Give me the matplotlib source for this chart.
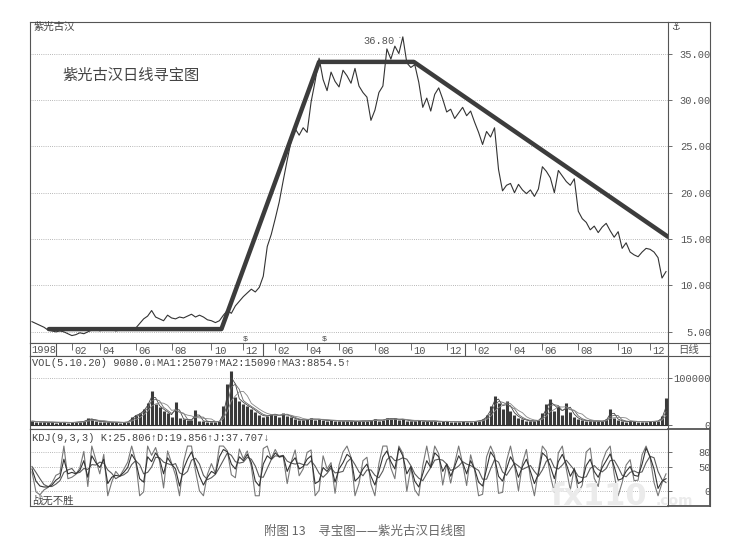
import numpy as np
import pandas as pd
import matplotlib
matplotlib.use('Agg')
import matplotlib.pyplot as plt
from matplotlib.lines import Line2D

# daily close (one value every ~4 px)
price = [6.1, 5.9, 5.7, 5.5, 5.2, 5.1, 5.0, 5.1, 5.0, 4.8,
         4.6, 4.7, 4.9, 4.8, 5.0, 5.2, 5.4, 5.1, 5.3, 5.2,
         5.3, 5.1, 5.2, 5.3, 5.2, 5.4, 5.4, 5.9, 6.4, 6.7,
         7.3, 6.6, 6.4, 6.2, 6.8, 6.5, 6.4, 6.6, 6.5, 6.7,
         6.9, 6.6, 6.8, 6.6, 6.3, 6.2, 6.0, 6.2, 6.8, 7.3,
         7.0, 7.8, 8.3, 8.8, 9.2, 9.6, 9.3, 9.8, 11.0, 14.2,
         15.5, 17.2, 19.0, 21.3, 23.5, 25.6, 26.9, 26.2, 27.0, 26.5,
         29.8, 32.0, 34.5, 32.2, 31.0, 33.0, 32.0, 31.4, 33.2, 32.6,
         31.8, 33.4, 31.5, 30.8, 30.3, 27.8, 28.9, 30.8, 31.5, 35.5,
         34.4, 35.8, 35.0, 36.8, 34.0, 33.5, 33.8, 31.9, 29.2, 30.2,
         28.8, 30.6, 31.3, 30.1, 28.7, 29.0, 28.0, 28.6, 29.2, 28.3,
         28.8, 27.6, 26.5, 25.2, 26.6, 26.0, 27.0, 22.5, 20.2, 20.8,
         21.0, 20.0, 20.9, 20.3, 19.9, 20.3, 19.6, 20.4, 22.8, 22.3,
         21.6, 20.0, 22.4, 21.8, 21.2, 20.8, 21.5, 18.0, 17.2, 16.8,
         16.0, 16.4, 15.7, 16.3, 16.7, 15.9, 15.2, 15.8, 14.0, 14.6,
         13.6, 13.3, 13.1, 13.6, 14.0, 13.9, 13.6, 13.0, 10.8, 11.5]

volume = [8000, 7000, 6500, 6000, 5500, 6000, 5000, 5500, 6000, 5000,
          5500, 6000, 7000, 8000, 14000, 12000, 8000, 7000, 6500, 6000,
          5500, 6000, 5000, 5500, 7000, 18000, 22000, 25000, 35000, 48000,
          72000, 45000, 38000, 30000, 26000, 18000, 50000, 14000, 12000, 11000,
          10000, 33000, 9000, 8000, 7000, 6500, 7000, 7500, 40000, 87000,
          116000, 60000, 52000, 45000, 40000, 35000, 28000, 22000, 18000, 20000,
          24000, 22000, 18000, 26000, 20000, 16000, 12000, 11000, 10000, 12000,
          14000, 11000, 13000, 10000, 9000, 10000, 8500, 9000, 8000, 9500,
          8000, 7500, 8500, 9000, 8000, 10000, 12000, 9000, 11000, 15000,
          12000, 14000, 10000, 13000, 9000, 8000, 9000, 10000, 8000, 7500,
          9000, 8000, 7000, 7500, 8000, 7000, 6500, 7000, 7500, 6500,
          7000, 8000, 9000, 12000, 22000, 40000, 63000, 48000, 35000, 52000,
          30000, 22000, 15000, 12000, 9000, 8000, 9000, 10000, 25000, 45000,
          55000, 30000, 40000, 22000, 48000, 28000, 18000, 12000, 10000, 9000,
          8000, 9000, 8000, 7500, 12000, 35000, 15000, 10000, 8000, 7000,
          7500, 8000, 7000, 6500, 7000, 8000, 7500, 9000, 20000, 57000]

kdj_k = [45, 20, 10, 8, 8, 12, 22, 28, 65, 35,
         38, 35, 42, 62, 28, 72, 58, 48, 65, 15,
         28, 32, 30, 38, 48, 75, 62, 25, 18, 70,
         60, 78, 65, 35, 68, 55, 45, 10, 45, 65,
         80, 55, 30, 12, 28, 40, 35, 70, 85, 80,
         55, 45, 70, 62, 75, 58, 20, 10, 55, 72,
         65, 78, 70, 72, 40, 58, 68, 45, 50, 65,
         72, 15, 20, 48, 40, 52, 18, 45, 58, 75,
         68, 20, 28, 45, 55, 30, 12, 40, 70, 82,
         60, 45, 88, 72, 35, 50, 20, 8, 35, 62,
         48, 78, 70, 40, 55, 30, 50, 72, 58, 35,
         62, 45, 18, 10, 45, 80, 68, 30, 20, 45,
         70, 55, 28, 50, 65, 40, 15, 35, 78, 70,
         50, 25, 60, 75, 55, 30, 45, 15, 20, 52,
         65, 40, 28, 48, 62, 76, 50, 22, 25, 40,
         50, 32, 30, 55, 88, 70, 45, 5, 20, 25]

kdj_d = [50, 38, 25, 13, 9, 9, 14, 21, 38, 43,
         46, 36, 38, 46, 44, 54, 53, 59, 57, 43,
         36, 25, 30, 33, 39, 54, 62, 54, 35, 38,
         49, 69, 68, 59, 56, 53, 56, 37, 33, 40,
         63, 67, 55, 32, 23, 27, 34, 48, 63, 78,
         73, 60, 57, 59, 69, 65, 51, 29, 28, 46,
         64, 72, 71, 73, 61, 57, 55, 57, 54, 53,
         62, 51, 36, 28, 36, 47, 37, 38, 40, 59,
         67, 54, 39, 31, 43, 43, 32, 27, 41, 64,
         71, 62, 64, 68, 65, 52, 35, 26, 21, 35,
         48, 63, 65, 63, 55, 42, 45, 51, 60, 55,
         52, 47, 42, 24, 24, 45, 64, 59, 39, 32,
         45, 57, 51, 44, 48, 52, 40, 30, 43, 61,
         66, 48, 45, 53, 63, 53, 43, 30, 27, 29,
         46, 52, 44, 39, 46, 62, 63, 49, 32, 29,
         38, 41, 37, 39, 58, 71, 68, 40, 23, 17]

kdj_j = [39, -2, -8, 2, 7, 16, 32, 36, 92, 25,
         28, 34, 47, 81, 9, 92, 64, 35, 75, -10,
         18, 40, 30, 44, 59, 92, 62, -10, -2, 92,
         73, 89, 61, 6, 82, 57, 32, -10, 59, 92,
         92, 41, 0, -10, 34, 56, 36, 92, 92, 82,
         33, 27, 86, 66, 82, 50, -10, -10, 87, 92,
         66, 85, 69, 71, 15, 59, 84, 31, 45, 79,
         84, -10, 1, 72, 45, 58, -5, 53, 80, 92,
         69, -10, 15, 62, 69, 14, -10, 56, 92, 92,
         47, 25, 92, 77, -1, 48, 2, -10, 52, 92,
         48, 92, 76, 12, 55, 16, 56, 92, 56, 11,
         74, 43, -10, -7, 70, 92, 73, -5, -3, 61,
         92, 53, 0, 57, 85, 26, -10, 41, 92, 81,
         31, -3, 78, 92, 45, 2, 47, -3, 12, 80,
         88, 26, 9, 59, 81, 92, 34, -10, 17, 53,
         64, 21, 22, 74, 92, 69, 17, -10, 16, 35]

# hand drawn trend lines (bar index, price)
trend_x = [4.25, 47.5, 72, 95.75, 159.5]
trend_y = [5.3, 5.3, 34.1, 34.1, 15.25]

price_ticks = [5, 10, 15, 20, 25, 30, 35]
vol_ticks = [0, 100000]
kdj_ticks = [0, 50, 80]
kdj_grid = [0, 20, 50, 80]

first_year = '1998'
month_labels = ['02', '04', '06', '08', '10', '12',
                '02', '04', '06', '08', '10', '12',
                '02', '04', '06', '08', '10', '12']
month_pos = [10, 17, 26, 35, 45, 53, 61, 69, 77, 86, 95, 104, 111, 120, 128, 137, 147, 155]
year_sep = [6, 58, 108.5]
exright_pos = [53.4, 73.4]   # "$" marks
ma_windows = [2, 3, 5]       # 5/10/20 days at this bar spacing

mono = ['Liberation Mono', 'DejaVu Sans Mono']
cjk = ['Noto Sans CJK SC', 'DejaVu Sans']
plt.rcParams['font.family'] = ['Liberation Mono', 'Noto Sans CJK SC', 'DejaVu Sans']

edge = '#555555'
txt = '#555555'
W, H = 733, 550
fig = plt.figure(figsize=(W / 100, H / 100), dpi=100)


def box(x0, y0, x1, y1):
    return [x0 / W, 1 - y1 / H, (x1 - x0) / W, (y1 - y0) / H]


def fline(x0, y0, x1, y1, lw=0.8):
    fig.add_artist(Line2D([x0 / W, x1 / W], [1 - y0 / H, 1 - y1 / H],
                          transform=fig.transFigure, color=edge, lw=lw))


ax_p = fig.add_axes(box(30, 22, 668, 343))
ax_d = fig.add_axes(box(30, 343, 668, 356), sharex=ax_p)
ax_v = fig.add_axes(box(30, 356, 668, 429), sharex=ax_p)
ax_k = fig.add_axes(box(30, 429, 668, 506), sharex=ax_p)

x = np.arange(len(price))
dots = (0, (1, 1.6))

for ax in (ax_p, ax_d, ax_v, ax_k):
    for s in ax.spines.values():
        s.set_color(edge)
        s.set_linewidth(0.8)
    ax.tick_params(axis='x', bottom=False, labelbottom=False)
    ax.yaxis.tick_right()
    ax.tick_params(axis='y', direction='out', length=3, width=0.6, pad=28,
                   labelsize=7.5, colors=txt)

# ---- price panel
ax_p.set_xlim(-0.5, len(price) - 0.5)
ax_p.set_ylim(3.8, 38.4)
for t in price_ticks:
    ax_p.axhline(t, color='#a0a0a0', lw=0.6, ls=dots, zorder=0)
ax_p.plot(x, price, color='#333333', lw=0.8)
ax_p.plot(trend_x, trend_y, color='#3c3c3c', lw=3.2, solid_capstyle='round')
ax_p.set_yticks(price_ticks, labels=['%.2f' % t for t in price_ticks], ha='right')
ax_p.annotate('36.80', xy=(x[int(np.argmax(price))], max(price)), xytext=(83, 36.3),
              fontsize=7.5, color=txt, va='center', family=mono,
              arrowprops=dict(arrowstyle='-', color='#666', lw=0.6))
for p in exright_pos:
    ax_p.text(p, 4.2, '$', fontsize=6, color='#444', ha='center', va='center', family=mono)
ax_p.text(0.005, 0.985, '紫光古汉', transform=ax_p.transAxes, fontsize=7.5,
          color='#444', va='center', family=cjk)
ax_p.text(0.05, 0.832, '紫光古汉日线寻宝图', transform=ax_p.transAxes, fontsize=11,
          color='#444', va='center', family=cjk)

# ---- date row
ax_d.set_ylim(0, 1)
ax_d.set_yticks([])
ax_d.text(-0.3, 0.45, first_year, fontsize=7.5, color=txt, va='center', family=mono)
ax_d.vlines(year_sep, 0, 1, color=edge, lw=0.8)
ax_d.vlines(month_pos, 0.5, 1, color=edge, lw=0.6)
for p, lab in zip(month_pos, month_labels):
    ax_d.text(p + 0.6, 0.42, lab, fontsize=7.5, color=txt, va='center', family=mono)

# ---- volume panel
ax_v.set_ylim(-8700, 147800)
ax_v.axhline(100000, color='#a0a0a0', lw=0.6, ls=dots, zorder=0)
ax_v.vlines(x, 0, volume, color='#3a3a3a', lw=2.2)
vol_s = pd.Series(volume, dtype=float)
for w, c in zip(ma_windows, ['#444', '#666', '#888']):
    ax_v.plot(x, vol_s.rolling(w, min_periods=1).mean(), color=c, lw=0.6)
ax_v.axhline(0, color='#333', lw=0.8)
ax_v.set_yticks(vol_ticks, labels=[str(t) for t in vol_ticks], ha='right')
ax_v.text(0.003, 0.905, 'VOL(5.10.20) 9080.0↓MA1:25079↑MA2:15090↑MA3:8854.5↑',
          transform=ax_v.transAxes, fontsize=7.5, color='#444', va='center', family=mono)

# ---- KDJ panel
ax_k.set_ylim(-31, 127)
for t in kdj_grid:
    ax_k.axhline(t, color='#a0a0a0', lw=0.6, ls=dots, zorder=0)
ax_k.plot(x, kdj_j, color='#777777', lw=0.8)
ax_k.plot(x, kdj_d, color='#5a5a5a', lw=0.8)
ax_k.plot(x, kdj_k, color='#333333', lw=0.8)
ax_k.set_yticks(kdj_ticks, labels=[str(t) for t in kdj_ticks], ha='right')
ax_k.text(0.003, 0.883, 'KDJ(9,3,3) K:25.806↑D:19.856↑J:37.707↓',
          transform=ax_k.transAxes, fontsize=7.5, color='#444', va='center', family=mono)
ax_k.text(0.003, 0.075, '战无不胜', transform=ax_k.transAxes, fontsize=7.5,
          color='#444', va='center', family=cjk)

# ---- right column frame
fline(668, 22, 710, 22)
fline(710, 22, 710, 506)
fline(668, 343, 710, 343)
fline(668, 356, 710, 356)
fline(668, 429, 710, 429, lw=1.3)
fline(710, 429, 710, 506, lw=1.3)
fline(668, 506, 710, 506, lw=1.3)
fig.text(671 / W, 1 - 27 / H, '⚓', fontsize=7, color='#444', va='center',
         family=['DejaVu Sans'])
fig.text(689 / W, 1 - 350 / H, '日线', fontsize=7.5, color=txt, ha='center',
         va='center', family=cjk)

# watermark
fig.text(550 / W, 1 - 505 / H, 'fx110', fontsize=22, color='#ebebeb',
         weight='bold', family=['DejaVu Sans'])
fig.text(656 / W, 1 - 505 / H, '.com', fontsize=10, color='#ebebeb',
         weight='bold', family=['DejaVu Sans'])

fig.text(365 / W, 1 - 531 / H, '附图 13　寻宝图——紫光古汉日线图', fontsize=9,
         color='#666', ha='center', va='center', family=cjk)

fig.savefig('out.png', dpi=100, facecolor='white')
